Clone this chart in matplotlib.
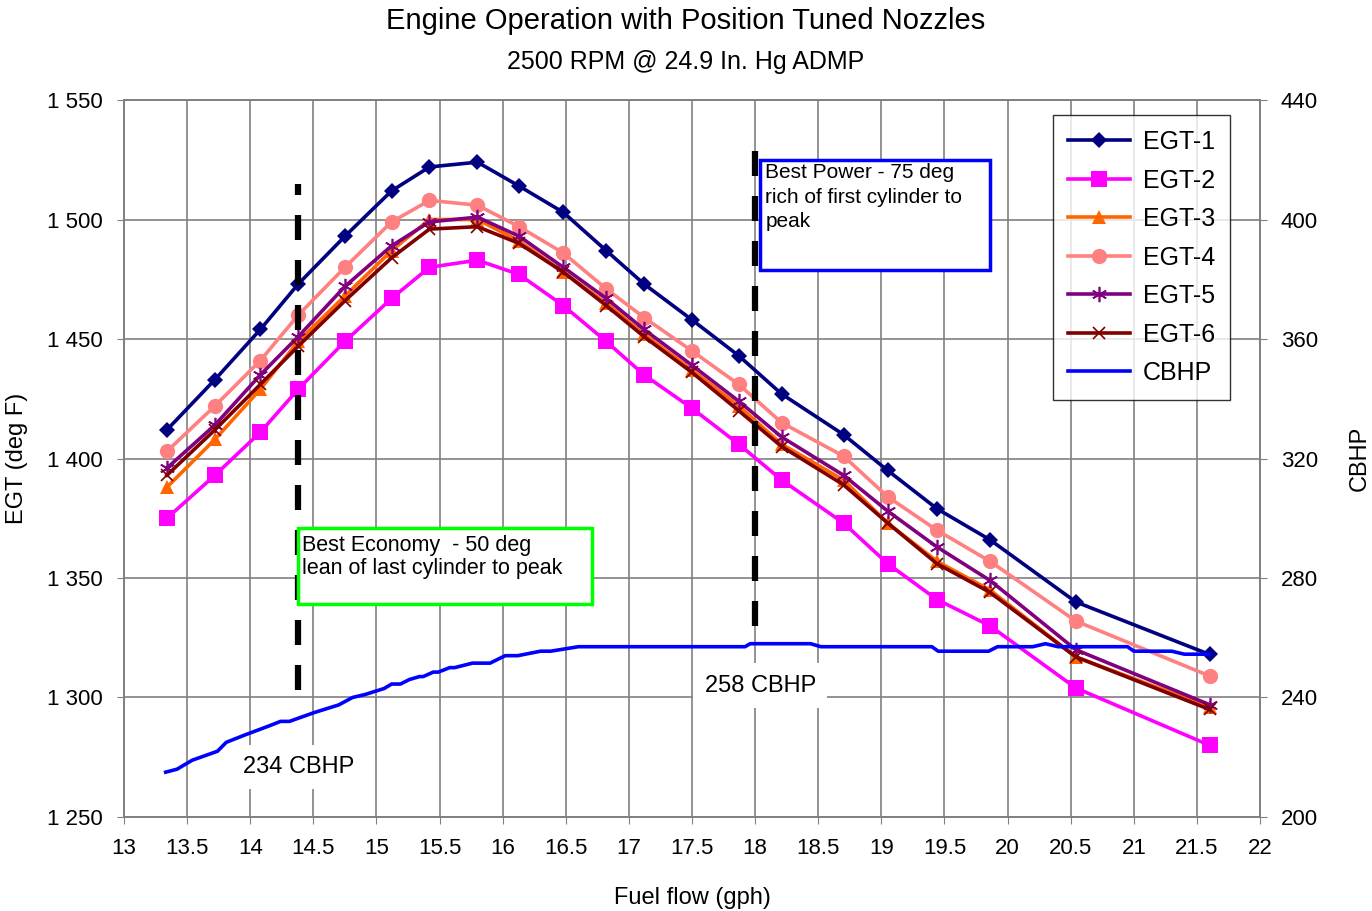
import matplotlib.pyplot as plt
from matplotlib.patches import Rectangle

plt.rcParams['font.family'] = ['Liberation Sans', 'DejaVu Sans']

# fuel flow (gph) where the EGT readings were logged
fuel_flow = [13.34, 13.72, 14.08, 14.38, 14.75, 15.12, 15.42, 15.80, 16.13, 16.48, 16.82,
             17.12, 17.50, 17.87, 18.21, 18.70, 19.05, 19.44, 19.86, 20.54, 21.60]

egt1 = [1412, 1433, 1454, 1473, 1493, 1512, 1522, 1524, 1514, 1503, 1487,
        1473, 1458, 1443, 1427, 1410, 1395, 1379, 1366, 1340, 1318]
egt2 = [1375, 1393, 1411, 1429, 1449, 1467, 1480, 1483, 1477, 1464, 1449,
        1435, 1421, 1406, 1391, 1373, 1356, 1341, 1330, 1304, 1280]
egt3 = [1388, 1408, 1429, 1449, 1468, 1487, 1500, 1500, 1491, 1478, 1465,
        1452, 1437, 1422, 1406, 1391, 1373, 1357, 1345, 1317, 1296]
egt4 = [1403, 1422, 1441, 1460, 1480, 1499, 1508, 1506, 1497, 1486, 1471,
        1459, 1445, 1431, 1415, 1401, 1384, 1370, 1357, 1332, 1309]
egt5 = [1396, 1414, 1435, 1451, 1472, 1489, 1499, 1501, 1493, 1480, 1467,
        1454, 1439, 1424, 1409, 1393, 1378, 1363, 1349, 1320, 1297]
egt6 = [1393, 1412, 1431, 1447, 1466, 1484, 1496, 1497, 1490, 1478, 1464,
        1451, 1436, 1420, 1405, 1389, 1373, 1356, 1344, 1317, 1295]

# CBHP trace (right axis)
cbhp_ff = [13.33, 13.42, 13.54, 13.74, 13.81, 13.96, 14.15, 14.24, 14.31, 14.51, 14.70,
           14.81, 14.91, 15.06, 15.12, 15.19, 15.26, 15.34, 15.37, 15.45, 15.49,
           15.58, 15.62, 15.76, 15.90, 16.02, 16.12, 16.30, 16.38, 16.60, 17.00,
           17.50, 17.92, 17.96, 18.00, 18.44, 18.52, 18.80, 19.00, 19.40, 19.45,
           19.85, 19.92, 20.20, 20.30, 20.40, 20.60, 20.95, 21.00, 21.30, 21.40, 21.60]
cbhp = [215, 216, 219, 222, 225, 227.5, 230.5, 232, 232, 235, 237.5,
        240, 241, 243, 244.5, 244.5, 246, 247, 247, 248.5, 248.5,
        250, 250, 251.5, 251.5, 254, 254, 255.5, 255.5, 257, 257,
        257, 257, 258, 258, 258, 257, 257, 257, 257, 255.5,
        255.5, 257, 257, 258, 257, 257, 257, 255.5, 255.5, 254.5, 254.5]

series = [
    ('EGT-1', egt1, '#000080', 'D', 8),
    ('EGT-2', egt2, '#FF00FF', 's', 11),
    ('EGT-3', egt3, '#FF6600', '^', 10),
    ('EGT-4', egt4, '#FF8080', 'o', 11),
    ('EGT-5', egt5, '#800080', (6, 2, 0), 11),
    ('EGT-6', egt6, '#800000', 'x', 9),
]

# annotation markers: best economy / best power fuel flows
econ_ff, econ_span = 14.38, (1303, 1515)
power_ff, power_span = 18.0, (1330, 1529)

fig = plt.figure(figsize=(13.72, 9.11), dpi=100)
ax = fig.add_axes([0.0904, 0.1032, 0.828, 0.787])
ax2 = ax.twinx()

ax.set_xlim(13, 22)
ax.set_ylim(1250, 1550)
ax2.set_ylim(200, 440)

ax.set_xticks([13 + 0.5 * i for i in range(19)])
ax.set_xticklabels(['%g' % (13 + 0.5 * i) for i in range(19)], fontsize=16)
yt = list(range(1250, 1551, 50))
ax.set_yticks(yt)
ax.set_yticklabels(['%d %03d' % (v // 1000, v % 1000) for v in yt], fontsize=16)
ax2.set_yticks(range(200, 441, 40))
ax2.set_yticklabels([str(v) for v in range(200, 441, 40)], fontsize=16)

ax.grid(True, color='#808080', linewidth=1.2)
ax.set_axisbelow(True)
for a in (ax, ax2):
    for s in a.spines.values():
        s.set_color('#808080')
        s.set_linewidth(1.2)
    a.tick_params(length=5, color='#808080', pad=10)

handles = []
for name, vals, col, mk, ms in series:
    h, = ax.plot(fuel_flow, vals, color=col, lw=2.6, marker=mk, markersize=ms,
                 markeredgewidth=1.2 if mk in ('x', (6, 2, 0)) else 0,
                 markeredgecolor=col, label=name, zorder=3)
    handles.append(h)

h, = ax2.plot(cbhp_ff, cbhp, color='#0000FF', lw=2.6, label='CBHP', zorder=3)
handles.append(h)

# dashed guide lines
ax.plot([econ_ff, econ_ff], econ_span, color='black', lw=4.5,
        linestyle=(0, (4, 3.2)), zorder=4)
ax.plot([power_ff, power_ff], power_span, color='black', lw=4.5,
        linestyle=(0, (4, 3.2)), zorder=4)

ax.text(econ_ff, 1271, '234 CBHP', fontsize=17, ha='center', va='center', zorder=5,
        bbox=dict(facecolor='white', edgecolor='none', pad=8))
ax.text(power_ff + 0.04, 1305, '258 CBHP', fontsize=17, ha='center', va='center', zorder=5,
        bbox=dict(facecolor='white', edgecolor='none', pad=8))

# annotation boxes
ax.add_patch(Rectangle((14.38, 1339), 16.71 - 14.38, 1371 - 1339, facecolor='white',
                       edgecolor='#00FF00', lw=2.5, zorder=6))
ax.text(14.41, 1368, 'Best Economy  - 50 deg\nlean of last cylinder to peak',
        fontsize=15.5, ha='left', va='top', linespacing=1.15, zorder=7)
ax.add_patch(Rectangle((18.04, 1479), 19.86 - 18.04, 1525 - 1479, facecolor='white',
                       edgecolor='#0000FF', lw=2.5, zorder=6))
ax.text(18.08, 1523.5, 'Best Power - 75 deg\nrich of first cylinder to\npeak',
        fontsize=15, ha='left', va='top', linespacing=1.35, zorder=7)

leg = ax2.legend(handles=handles, loc='upper right', bbox_to_anchor=(0.9735, 0.979),
                 fontsize=18, frameon=True, fancybox=False, edgecolor='black',
                 handlelength=2.5, labelspacing=0.58, borderpad=0.6, handletextpad=0.5,
                 borderaxespad=0)
leg.get_frame().set_linewidth(1.0)
leg.set_zorder(10)

ax.set_xlabel('Fuel flow (gph)', fontsize=17, labelpad=20)
ax.set_ylabel('EGT (deg F)', fontsize=17, labelpad=14)
ax2.set_ylabel('CBHP', fontsize=17, labelpad=22)

fig.text(0.5, 0.977, 'Engine Operation with Position Tuned Nozzles', fontsize=21,
         ha='center', va='center')
fig.text(0.5, 0.932, '2500 RPM @ 24.9 In. Hg ADMP', fontsize=18, ha='center', va='center')

fig.savefig('out.png', dpi=100)
